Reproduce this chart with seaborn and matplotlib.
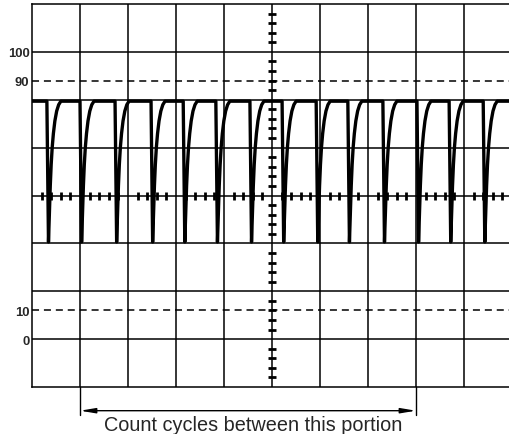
import numpy as np
import pandas as pd
import seaborn as sns
import matplotlib.pyplot as plt

# === Dados (em divisões do graticulado) ===
fall_x = [0.31, 1.00, 1.73, 2.48, 3.15, 3.83, 4.54, 5.21, 5.92, 6.58, 7.31, 8.02, 8.69, 9.40]
level_high = 5.97
level_low = 3.03
# forma de um ciclo a partir da descida: deslocamento (px da imagem) e fração da amplitude
cycle_px = [0.0, 1.6, 2.6, 3.4, 4.3, 5.3, 6.5, 8.0, 9.8, 11.8, 14.0]
cycle_frac = [1.0, 0.0, 0.22, 0.40, 0.55, 0.67, 0.77, 0.86, 0.93, 0.975, 1.0]

grid_x = [1, 2, 3, 4, 5, 6, 7, 8, 9]
grid_y = [1, 2, 3, 4, 5, 6, 7]
dashed_y = [1.6, 6.4]
label_pos = [1, 1.6, 6.4, 7]
label_txt = ['0', '10', '90', '100']
bracket_x = [1, 8]
caption = 'Count cycles between this portion'

PX_DIV = 48
X_MAX = 478 / PX_DIV
Y_MAX = 8

# === Montar o traço ===
xs, ys = [0.0], [level_high]
for fx in fall_x:
    for dpx, fr in zip(cycle_px, cycle_frac):
        xs.append(fx + dpx / PX_DIV)
        ys.append(level_low + fr * (level_high - level_low))
xs.append(X_MAX)
ys.append(level_high)
df_trace = pd.DataFrame({'t': xs, 'v': ys})

# === Figura ===
sns.set_style('white')
plt.rcParams['font.family'] = ['Liberation Sans', 'DejaVu Sans']

fig = plt.figure(figsize=(5.1, 4.35), dpi=100)
ax = fig.add_axes([32 / 510, 47 / 435, 478 / 510, 383 / 435])
ax.set_xlim(0, X_MAX)
ax.set_ylim(0, Y_MAX)

lw_grid = 1.1
for gx in grid_x:
    ax.axvline(gx, color='black', lw=lw_grid, zorder=1)
for gy in grid_y:
    ax.axhline(gy, color='black', lw=lw_grid, zorder=1)
for gy in dashed_y:
    ax.axhline(gy, color='black', lw=lw_grid, ls=(0, (4.6, 3.2)), zorder=1)

# marcas das subdivisões nos eixos centrais
sub = [k * 0.2 for k in range(1, 50) if k % 5 != 0]
ax.plot(sub, [4] * len(sub), ls='none', marker='|', ms=6, mew=2.0, color='black', zorder=2)
sub_v = [k * 0.2 for k in range(1, 40) if k % 5 != 0]
ax.plot([5] * len(sub_v), sub_v, ls='none', marker='_', ms=6, mew=2.0, color='black', zorder=2)

# traço do sinal
sns.lineplot(data=df_trace, x='t', y='v', sort=False, estimator=None,
             color='black', lw=2.4, ax=ax, zorder=3)

ax.set_xlabel('')
ax.set_ylabel('')
ax.set_xticks([])
ax.set_yticks(label_pos)
ax.set_yticklabels(label_txt, fontsize=9.4, fontweight='bold')
ax.tick_params(axis='y', length=0, pad=1.8)

for side in ['left', 'top', 'bottom']:
    ax.spines[side].set_visible(True)
    ax.spines[side].set_color('black')
    ax.spines[side].set_linewidth(lw_grid)
ax.spines['right'].set_visible(False)

# colchete e legenda abaixo do graticulado
y_arrow = -0.495
for bx in bracket_x:
    ax.plot([bx, bx], [0, -0.585], color='black', lw=1.0, clip_on=False)
ax.annotate('', xy=(bracket_x[0], y_arrow), xytext=(bracket_x[1], y_arrow),
            arrowprops=dict(arrowstyle='<|-|>,head_length=0.9,head_width=0.15',
                            color='black', lw=1.0, shrinkA=0, shrinkB=0,
                            mutation_scale=10),
            annotation_clip=False)
ax.text((253 - 32) / PX_DIV, -0.79, caption, ha='center', va='center',
        fontsize=14.3, clip_on=False)

fig.savefig('out.png', dpi=100, facecolor='white')
